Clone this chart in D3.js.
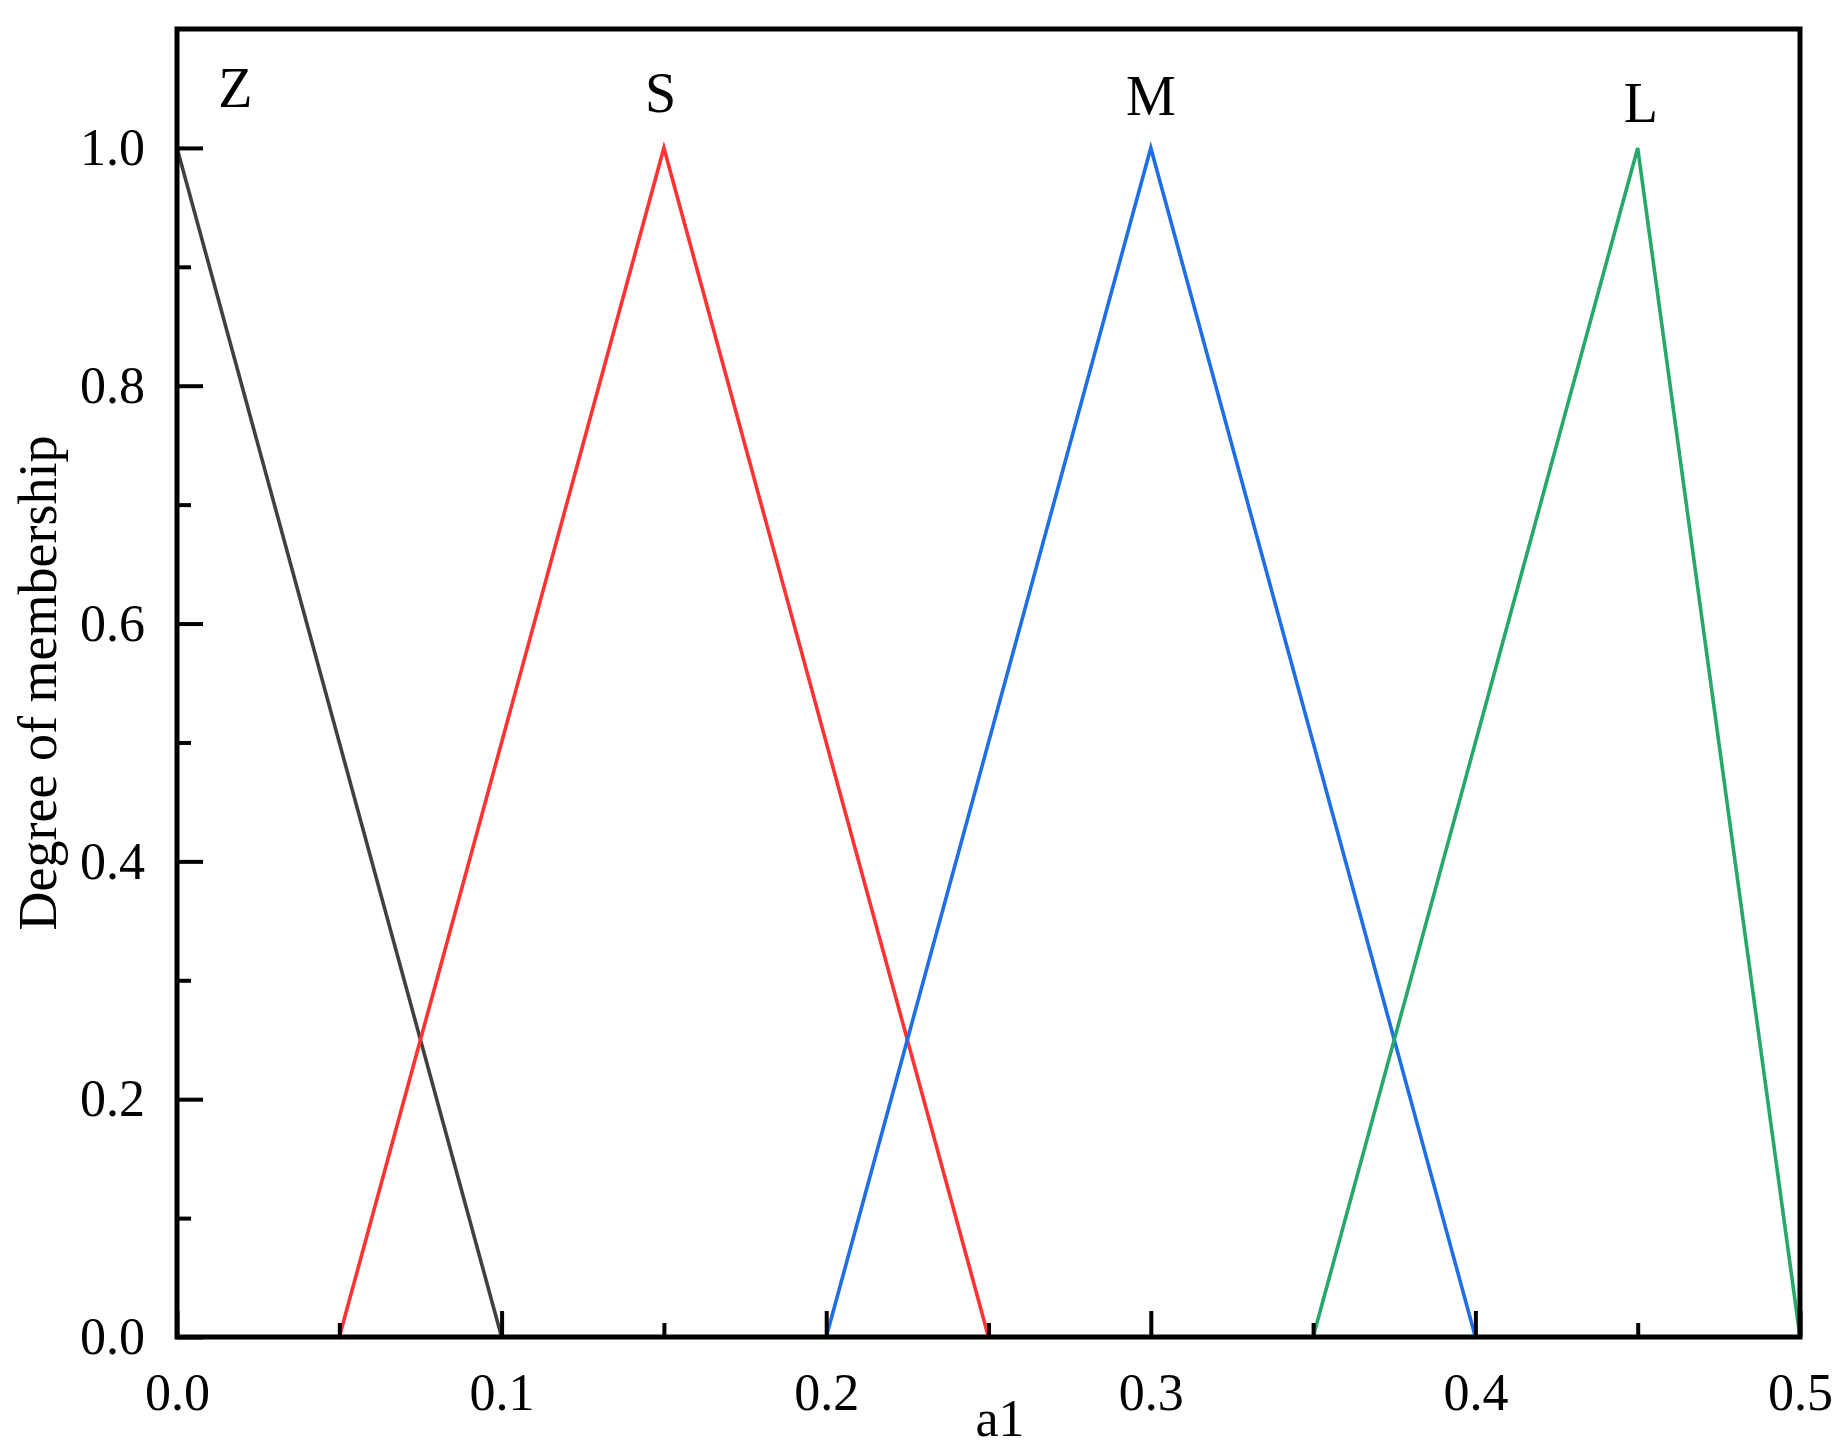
<!DOCTYPE html>
<html>
<head>
<meta charset="utf-8">
<script src="https://cdn.jsdelivr.net/npm/d3@7"></script>
<style>
html,body{margin:0;padding:0;background:#fff;}
svg text{font-family:"Liberation Serif","Times New Roman",serif;fill:#000;}
</style>
</head>
<body>
<svg id="chart" width="1844" height="1446"></svg>
<script>
const seriesNames = ["Z", "S", "M", "L"];
const seriesColors = ["#404040", "#ff3333", "#1e6ee6", "#26a86a"];
const seriesX = [
  [0.0, 0.1],
  [0.05, 0.15, 0.25],
  [0.2, 0.3, 0.4],
  [0.35, 0.45, 0.5]
];
const seriesY = [
  [1.0, 0.0],
  [0.0, 1.0, 0.0],
  [0.0, 1.0, 0.0],
  [0.0, 1.0, 0.0]
];
const labelX = [0.018, 0.149, 0.3, 0.451];
const labelY = [1.034, 1.03, 1.028, 1.022];
const xTicks = [0.0, 0.1, 0.2, 0.3, 0.4, 0.5];
const xMinorTicks = [0.05, 0.15, 0.25, 0.35, 0.45];
const yTicks = [0.0, 0.2, 0.4, 0.6, 0.8, 1.0];
const yMinorTicks = [0.1, 0.3, 0.5, 0.7, 0.9];
const xTitle = "a1";
const yTitle = "Degree of membership";

const svg = d3.select("#chart");
const L = 177, R = 1800, T = 29, B = 1337;
const x = d3.scaleLinear().domain([0, 0.5]).range([L, R]);
const y = d3.scaleLinear().domain([0, 1.1]).range([B, T]);

// series
const line = d3.line().x(d => x(d[0])).y(d => y(d[1]));
seriesNames.forEach((n, i) => {
  const pts = seriesX[i].map((v, j) => [v, seriesY[i][j]]);
  svg.append("path").attr("d", line(pts)).attr("fill", "none")
    .attr("stroke", seriesColors[i]).attr("stroke-width", 3.6)
    .attr("stroke-linejoin", "miter");
  svg.append("text").attr("x", x(labelX[i])).attr("y", y(labelY[i]))
    .attr("text-anchor", "middle").attr("font-size", 56).text(n);
});

// axes
const fs = 52;
const xAxis = d3.axisBottom(x).tickValues(xTicks).tickFormat(d3.format(".1f"))
  .tickSize(-26).tickPadding(36);
const gx = svg.append("g").attr("transform", `translate(0,${B})`).call(xAxis);
const xAxisMinor = d3.axisBottom(x).tickValues(xMinorTicks).tickFormat("").tickSize(-14);
const gxm = svg.append("g").attr("transform", `translate(0,${B})`).call(xAxisMinor);

const yAxis = d3.axisLeft(y).tickValues(yTicks).tickFormat(d3.format(".1f"))
  .tickSize(-26).tickPadding(32);
const gy = svg.append("g").attr("transform", `translate(${L},0)`).call(yAxis);
const yAxisMinor = d3.axisLeft(y).tickValues(yMinorTicks).tickFormat("").tickSize(-14);
const gym = svg.append("g").attr("transform", `translate(${L},0)`).call(yAxisMinor);

[gx, gxm, gy, gym].forEach(g => {
  g.select(".domain").remove();
  g.selectAll(".tick line").attr("stroke", "#000").attr("stroke-width", 4);
  g.selectAll(".tick text").attr("font-size", fs)
    .attr("font-family", "Liberation Serif, Times New Roman, serif").attr("fill", "#000");
});
gx.selectAll(".tick text").attr("dy", "0.71em");

// frame
svg.append("rect").attr("x", L).attr("y", T).attr("width", R - L).attr("height", B - T)
  .attr("fill", "none").attr("stroke", "#000").attr("stroke-width", 5);

// titles
svg.append("text").attr("x", 1000).attr("y", 1436).attr("text-anchor", "middle")
  .attr("font-size", fs).text(xTitle);
svg.append("text").attr("transform", `translate(56,${(T + B) / 2}) rotate(-90)`)
  .attr("text-anchor", "middle").attr("font-size", 54).text(yTitle);
</script>
</body>
</html>
